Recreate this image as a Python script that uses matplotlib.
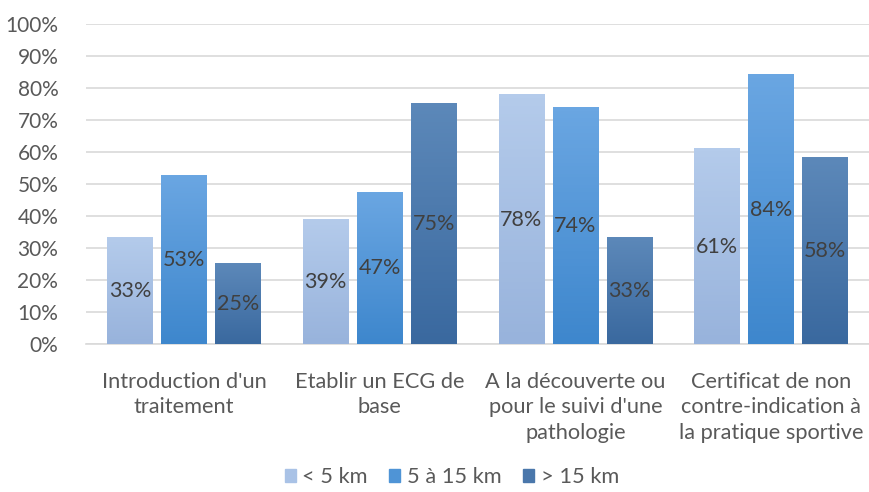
import numpy as np
import matplotlib.pyplot as plt
from matplotlib.colors import LinearSegmentedColormap
from matplotlib.patches import Patch

plt.rcParams['font.family'] = ['Lato', 'DejaVu Sans']

categories = ["Introduction d'un\ntraitement", "Etablir un ECG de\nbase",
              "A la découverte ou\npour le suivi d'une\npathologie",
              "Certificat de non\ncontre-indication à\nla pratique sportive"]
series = ["< 5 km", "5 à 15 km", "> 15 km"]
lt5 = [33.3, 38.9, 77.8, 61.1]
mid = [52.6, 47.4, 73.7, 84.2]
gt15 = [25.0, 75.0, 33.3, 58.3]

# (top, bottom) colours of the gradient
grads = [("#b4cbeb", "#98b3dc"), ("#6aa6e2", "#3e87cd"), ("#5c88b9", "#3a699f")]
legend_cols = ["#a9c2e6", "#4f94d6", "#4a77ab"]

fig = plt.figure(figsize=(8.69, 4.92), dpi=100)
ax = fig.add_axes([0.099, 0.30, 0.901, 0.651])

x = np.arange(len(categories))
w = 0.232
step = 0.276
for k, vals in enumerate([lt5, mid, gt15]):
    bars = ax.bar(x + (k - 1) * step, vals, width=w, color="none", zorder=3)
    cmap = LinearSegmentedColormap.from_list("g", [grads[k][1], grads[k][0]])
    for b, v in zip(bars, vals):
        x0, x1 = b.get_x(), b.get_x() + b.get_width()
        ax.imshow(np.linspace(0, 1, 64).reshape(-1, 1), cmap=cmap, origin="lower",
                  extent=[x0, x1, 0, b.get_height()], aspect="auto", zorder=3)
        ax.text(b.get_x() + b.get_width() / 2, v / 2, f"{round(v)}%",
                ha="center", va="center", fontsize=15.5, color="#404040", zorder=4)

ax.set_xlim(-0.5, len(categories) - 0.5)
ax.set_ylim(0, 100)
ax.set_yticks(np.arange(0, 101, 10))
ax.set_yticklabels([f"{t}%" for t in range(0, 101, 10)])
ax.set_xticks(x)
ax.set_xticklabels(categories, linespacing=1.33)
ax.tick_params(axis="both", length=0, labelsize=15, colors="#595959")
ax.tick_params(axis="x", pad=20, labelsize=15.7)
ax.tick_params(axis="y", pad=20)
ax.grid(axis="y", color="#d9d9d9", linewidth=1.2, zorder=0)
for s in ["top", "right", "left"]:
    ax.spines[s].set_visible(False)
ax.spines["bottom"].set_color("#d9d9d9")
ax.spines["bottom"].set_linewidth(1.2)

handles = [Patch(color=c, label=s) for c, s in zip(legend_cols, series)]
fig.legend(handles=handles, loc="lower center", bbox_to_anchor=(0.52, -0.03), ncol=3,
           frameon=False, fontsize=15.7, handlelength=0.5, handleheight=0.5,
           handletextpad=0.3, columnspacing=1.0, labelcolor="#595959")

fig.savefig("out.png", dpi=100)
